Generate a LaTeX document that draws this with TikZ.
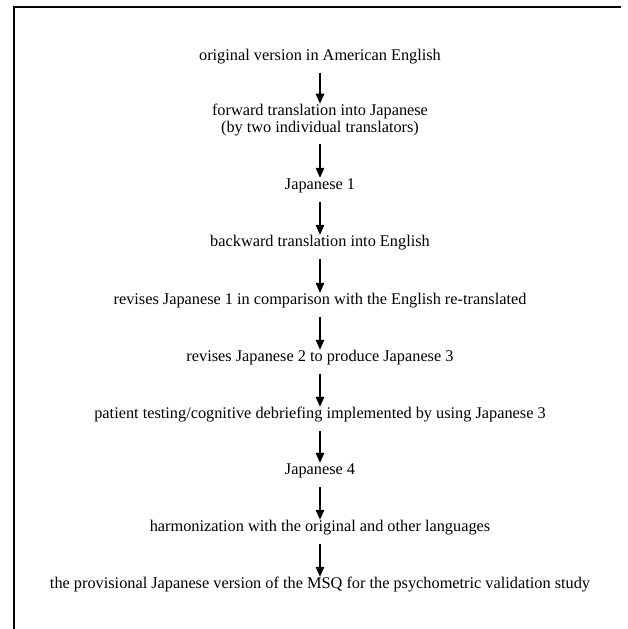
\documentclass[tikz,border=0pt]{standalone}
\usepackage{fontspec}
\setmainfont{Liberation Serif}
\usetikzlibrary{arrows.meta}

\begin{document}
\begin{tikzpicture}[x=1pt,y=-1pt,
  stage/.style={inner sep=0pt, font=\fontsize{16.3}{16.3}\selectfont, text height=11pt, text depth=4pt},
  flow/.style={-{Triangle[width=8.5pt,length=10pt]}, line width=1.3pt, shorten <=8pt, shorten >=0.5pt}]
\useasboundingbox (0,0) rectangle (627,629);
% frame of the scanned page
\draw [line width=1.8pt] (621,7) -- (14,7) -- (14,629);
% steps
\node [stage] (orig) at (320,57) {original version in American English};
\node [inner sep=0pt, font=\fontsize{16.3}{16.3}\selectfont, align=center] (fwd) at (320,120)
  {forward translation into Japanese\\(by two individual translators)};
\node [stage] (jp1) at (320,186) {Japanese 1};
\node [stage] (back) at (320,243) {backward translation into English};
\node [stage] (rev1) at (320,301) {revises Japanese 1 in comparison with the English re-translated};
\node [stage] (rev2) at (320,358) {revises Japanese 2 to produce Japanese 3};
\node [stage] (test) at (320,415) {patient testing/cognitive debriefing implemented by using Japanese 3};
\node [stage] (jp4) at (320,471) {Japanese 4};
\node [stage] (harm) at (320,528) {harmonization with the original and other languages};
\node [stage] (prov) at (320,585) {the provisional Japanese version of the MSQ for the psychometric validation study};
% arrows
\draw [flow] (orig.south) -- (fwd.north);
\draw [flow] (fwd.south) -- (jp1.north);
\draw [flow] (jp1.south) -- (back.north);
\draw [flow] (back.south) -- (rev1.north);
\draw [flow] (rev1.south) -- (rev2.north);
\draw [flow] (rev2.south) -- (test.north);
\draw [flow] (test.south) -- (jp4.north);
\draw [flow] (jp4.south) -- (harm.north);
\draw [flow] (harm.south) -- (prov.north);
\end{tikzpicture}
\end{document}
